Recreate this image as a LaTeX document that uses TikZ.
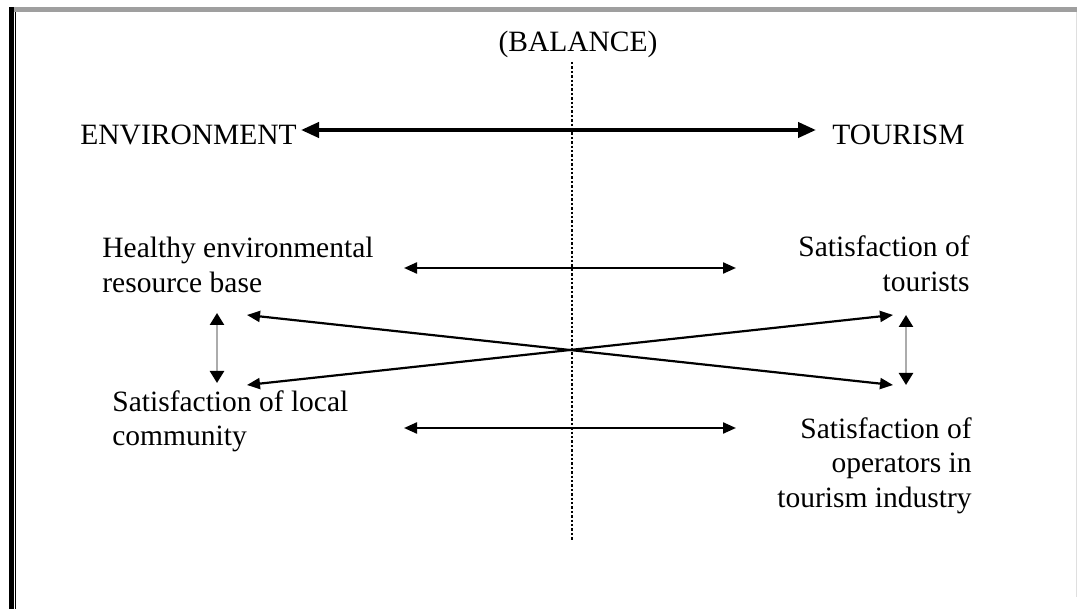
\documentclass[tikz,border=0pt]{standalone}
\usepackage{fontspec}
\setmainfont{Liberation Serif}
\usetikzlibrary{arrows.meta}
\begin{document}
\begin{tikzpicture}[x=0.5pt,y=-0.5pt,
  lbl/.style={inner sep=0pt, font=\fontsize{14.75}{17.25}\selectfont},
  link/.style={line width=1.1pt, {Triangle[length=6.5pt,width=5.5pt]}-{Triangle[length=6.5pt,width=5.5pt]}},
  boldlink/.style={line width=2pt, {Triangle[length=9pt,width=7.5pt]}-{Triangle[length=9pt,width=7.5pt]}},
  vlink/.style={line width=1.2pt, draw=gray!65, {Triangle[length=6pt,width=7pt,color=black]}-{Triangle[length=6pt,width=7pt,color=black]}},
]
% page and frame
\fill[white] (0,0) rectangle (1077,609);
\useasboundingbox (0,0) rectangle (1077,609);
\fill[black] (9,7) rectangle (13.5,609);
\draw[line width=0.7pt] (15.5,7) -- (15.5,609);
\draw[gray!75, line width=2.6pt] (13.5,9.8) -- (1077,9.8);
\draw[gray!25, line width=0.5pt] (1076,12) -- (1076,597);

% labels
\node[lbl, anchor=base] (balance) at (578,52) {(BALANCE)};
\node[lbl, anchor=base west] (env) at (80,145) {ENVIRONMENT};
\node[lbl, anchor=base west] (tour) at (832,145) {TOURISM};
\node[lbl, anchor=base west] (health) at (102,258)
  {\begin{tabular}[t]{@{}l@{}}Healthy environmental\\resource base\end{tabular}};
\node[lbl, anchor=base east] (tourists) at (970,257)
  {\begin{tabular}[t]{@{}r@{}}Satisfaction of\\tourists\end{tabular}};
\node[lbl, anchor=base west] (local) at (112,411)
  {\begin{tabular}[t]{@{}l@{}}Satisfaction of local\\community\end{tabular}};
\node[lbl, anchor=base east] (operators) at (972,438)
  {\begin{tabular}[t]{@{}r@{}}Satisfaction of\\operators in\\tourism industry\end{tabular}};

% connector end points
\coordinate (balTop) at (572,62);
\coordinate (balBot) at (572,540);
\coordinate (envR) at (301,130);
\coordinate (tourL) at (816,130);
\coordinate (upL) at (404,268);
\coordinate (upR) at (736,268);
\coordinate (loL) at (404,428);
\coordinate (loR) at (736,428);
\coordinate (lvTop) at (217,313);
\coordinate (lvBot) at (217,383);
\coordinate (rvTop) at (906,315);
\coordinate (rvBot) at (906,385);
\coordinate (xLT) at (247,315);
\coordinate (xLB) at (247,385);
\coordinate (xRT) at (893,315);
\coordinate (xRB) at (893,385);

% balance axis
\draw[line width=0.9pt, dash pattern=on 1.2pt off 1pt] (balTop) -- (balBot);

% relations
\draw[boldlink] (envR) -- (tourL);
\draw[link] (upL) -- (upR);
\draw[link] (loL) -- (loR);
\draw[link] (xLT) -- (xRB);
\draw[link] (xLB) -- (xRT);
\draw[vlink] (lvTop) -- (lvBot);
\draw[vlink] (rvTop) -- (rvBot);
\end{tikzpicture}
\end{document}
